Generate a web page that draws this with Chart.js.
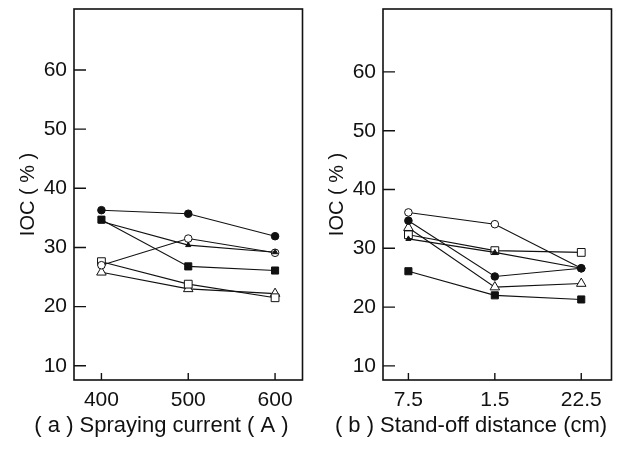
<!DOCTYPE html>
<html>
<head>
<meta charset="utf-8">
<script src="https://cdn.jsdelivr.net/npm/chart.js@4.4.1/dist/chart.umd.min.js"></script>
<style>
  html, body { margin: 0; padding: 0; background: #fff; }
  #wrap { position: relative; width: 618px; height: 450px; }
  .panel { position: absolute; top: 0; width: 309px; height: 450px; }
</style>
</head>
<body>
<div id="wrap">
  <div class="panel" style="left:0"><canvas id="currentChart" width="309" height="450"></canvas></div>
  <div class="panel" style="left:309px"><canvas id="distanceChart" width="309" height="450"></canvas></div>
</div>
<script>
// IOC vs spraying parameters

const currentTicks = [400, 500, 600];
const distanceLabels = ['7.5', '1.5', '22.5'];
const yTicks = [10, 20, 30, 40, 50, 60];

// (a) spraying current
const curFilledCircle = [36.3, 35.7, 31.9];
const curFilledSquare = [34.7, 26.8, 26.1];
const curFilledTriangle = [34.4, 30.4, 29.2];
const curOpenCircle = [27.0, 31.5, 29.1];
const curOpenSquare = [27.6, 23.8, 21.5];
const curOpenTriangle = [25.8, 23.0, 22.2];

// (b) stand-off distance
const distOpenCircle = [36.1, 34.1, 26.6];
const distFilledCircle = [34.7, 25.2, 26.6];
const distOpenTriangle = [33.5, 23.4, 24.0];
const distOpenSquare = [32.3, 29.6, 29.3];
const distFilledTriangle = [31.6, 29.3, 26.6];
const distFilledSquare = [26.1, 22.0, 21.3];

const INK = '#111';
const FONT = 'Liberation Sans, Arial, Helvetica, sans-serif';

const markerStyles = {
  filledCircle: { pointStyle: 'circle', pointRadius: 3.8, pointBackgroundColor: INK },
  filledSquare: { pointStyle: 'rect', pointRadius: 5, pointBackgroundColor: INK },
  filledTriangle: { pointStyle: 'triangle', pointRadius: 3, pointBackgroundColor: INK },
  openCircle: { pointStyle: 'circle', pointRadius: 3.8, pointBackgroundColor: '#fff' },
  openSquare: { pointStyle: 'rect', pointRadius: 5.5, pointBackgroundColor: '#fff' },
  openTriangle: { pointStyle: 'triangle', pointRadius: 5.5, pointBackgroundColor: '#fff' }
};

function makeDataset(values, xs, marker) {
  return Object.assign({
    data: values.map((v, i) => ({ x: xs[i], y: v })),
    borderColor: INK,
    borderWidth: 1.1,
    pointBorderColor: INK,
    pointBorderWidth: 1,
    tension: 0,
    fill: false
  }, markerStyles[marker]);
}

// box round the plot and inward tick marks
const framePlugin = {
  id: 'frame',
  afterDraw(chart) {
    const { ctx, chartArea: a, scales } = chart;
    ctx.save();
    ctx.strokeStyle = INK;
    ctx.lineWidth = 1.6;
    ctx.strokeRect(a.left, a.top, a.right - a.left, a.bottom - a.top);
    ctx.lineWidth = 1.4;
    ctx.beginPath();
    scales.y.ticks.forEach(t => {
      const y = scales.y.getPixelForValue(t.value);
      ctx.moveTo(a.left, y);
      ctx.lineTo(a.left + 12, y);
    });
    scales.x.ticks.forEach(t => {
      const x = scales.x.getPixelForValue(t.value);
      ctx.moveTo(x, a.bottom);
      ctx.lineTo(x, a.bottom - 7);
    });
    ctx.stroke();
    ctx.restore();
  }
};

function noEdgePadding(s) {
  s.paddingTop = 0;
  s.paddingBottom = 0;
  s.paddingLeft = 0;
  s.paddingRight = 0;
}

function makePanel(canvasId, cfg) {
  return new Chart(document.getElementById(canvasId), {
    type: 'line',
    data: { datasets: cfg.datasets },
    plugins: [framePlugin],
    options: {
      responsive: false,
      animation: false,
      layout: { padding: { top: 9, left: 16, right: cfg.rightPad, bottom: 0 } },
      plugins: {
        legend: { display: false },
        tooltip: { enabled: false },
        title: {
          display: true,
          position: 'bottom',
          text: cfg.title,
          color: INK,
          font: { family: FONT, size: 22, weight: 'normal' },
          padding: { top: 0, bottom: 11 }
        }
      },
      scales: {
        x: {
          type: 'linear',
          min: cfg.xMin,
          max: cfg.xMax,
          grid: { display: false, drawTicks: false },
          border: { display: false },
          afterBuildTicks: s => { s.ticks = cfg.xTicks.map(v => ({ value: v })); },
          afterFit: s => { s.height = 32.6; noEdgePadding(s); },
          ticks: {
            color: INK,
            font: { family: FONT, size: 21 },
            padding: 8,
            maxRotation: 0,
            callback: cfg.xLabel
          }
        },
        y: {
          min: cfg.yMin,
          max: cfg.yMax,
          grid: { display: false, drawTicks: false },
          border: { display: false },
          afterBuildTicks: s => { s.ticks = yTicks.map(v => ({ value: v })); },
          afterFit: s => { s.width = 58; noEdgePadding(s); },
          ticks: {
            color: INK,
            font: { family: FONT, size: 21 },
            padding: 7
          },
          title: {
            display: true,
            text: 'IOC ( % )',
            color: INK,
            font: { family: FONT, size: 20 },
            padding: 0
          }
        }
      }
    }
  });
}

const distIndex = distanceLabels.map((_, i) => i);

makePanel('currentChart', {
  title: '( a ) Spraying current ( A )',
  rightPad: 2,
  xMin: 368.4,
  xMax: 631.6,
  xTicks: currentTicks,
  xLabel: v => String(v),
  yMin: 7.6,
  yMax: 70.3,
  datasets: [
    makeDataset(curFilledCircle, currentTicks, 'filledCircle'),
    makeDataset(curFilledTriangle, currentTicks, 'filledTriangle'),
    makeDataset(curFilledSquare, currentTicks, 'filledSquare'),
    makeDataset(curOpenCircle, currentTicks, 'openCircle'),
    makeDataset(curOpenSquare, currentTicks, 'openSquare'),
    makeDataset(curOpenTriangle, currentTicks, 'openTriangle')
  ]
});

makePanel('distanceChart', {
  title: '( b ) Stand-off distance (cm)',
  rightPad: 1,
  xMin: -0.294,
  xMax: 2.35,
  xTicks: distIndex,
  xLabel: v => distanceLabels[v],
  yMin: 7.6,
  yMax: 70.7,
  datasets: [
    makeDataset(distFilledCircle, distIndex, 'filledCircle'),
    makeDataset(distFilledTriangle, distIndex, 'filledTriangle'),
    makeDataset(distFilledSquare, distIndex, 'filledSquare'),
    makeDataset(distOpenCircle, distIndex, 'openCircle'),
    makeDataset(distOpenTriangle, distIndex, 'openTriangle'),
    makeDataset(distOpenSquare, distIndex, 'openSquare')
  ]
});
</script>
</body>
</html>
